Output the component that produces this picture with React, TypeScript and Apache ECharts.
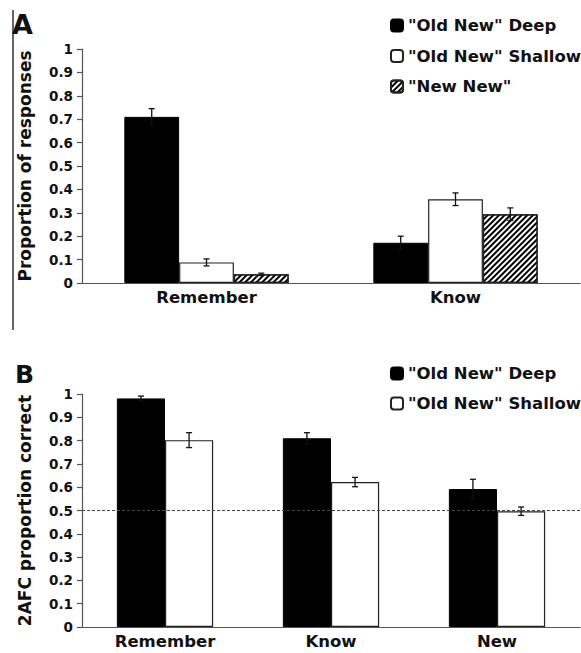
import React, { useEffect, useRef } from "react";
import * as echarts from "echarts";

const catsA = ["Remember", "Know"];
const namesA = ['"Old New" Deep', '"Old New" Shallow', '"New New"'];
const deepA = [0.71, 0.172];
const shallowA = [0.088, 0.358];
const newNewA = [0.037, 0.294];
const deepAErr = [0.035, 0.028];
const shallowAErr = [0.015, 0.027];
const newNewAErr = [0.005, 0.027];

const catsB = ["Remember", "Know", "New"];
const namesB = ['"Old New" Deep', '"Old New" Shallow'];
const deepB = [0.981, 0.81, 0.592];
const shallowB = [0.802, 0.622, 0.497];
const deepBErr = [0.01, 0.024, 0.042];
const shallowBErr = [0.032, 0.02, 0.018];
const chanceLevel = 0.5;

const yTicks = { min: 0, max: 1, interval: 0.1 };

const FONT = "DejaVu Sans";
const AXIS = "#555";
const TEXT = "#111";

export default function App() {
  const ref = useRef<HTMLDivElement>(null);
  useEffect(() => {
    if (!ref.current) return;
    const chart = echarts.init(ref.current, null, { renderer: "svg" });

    const errSeries = (
      means: number[][],
      errs: number[][],
      frac: number,
      axis: number
    ) => {
      const n = means.length;
      const data: number[][] = [];
      means.forEach((arr, k) =>
        arr.forEach((m, c) => data.push([c, m, errs[k][c], k]))
      );
      return {
        type: "custom",
        xAxisIndex: axis,
        yAxisIndex: axis,
        z: 10,
        silent: true,
        encode: { x: 0, y: 1 },
        data,
        renderItem: (params: any, api: any) => {
          const cat = api.value(0);
          const mean = api.value(1);
          const err = api.value(2);
          const k = api.value(3);
          const band = api.size([1, 0])[0];
          const bw = band * frac;
          const cx = api.coord([cat, 0])[0] + (k - (n - 1) / 2) * bw;
          const top = api.coord([cat, mean + err])[1];
          const bot = api.coord([cat, mean - err])[1];
          const cap = 3;
          const style = { stroke: "#111", lineWidth: 1.3 };
          return {
            type: "group",
            children: [
              { type: "line", shape: { x1: cx, y1: top, x2: cx, y2: bot }, style },
              { type: "line", shape: { x1: cx - cap, y1: top, x2: cx + cap, y2: top }, style },
              { type: "line", shape: { x1: cx - cap, y1: bot, x2: cx + cap, y2: bot }, style },
            ],
          };
        },
      };
    };

    const blackStyle = { color: "#000", borderColor: "#000", borderWidth: 1 };
    const whiteStyle = { color: "#fff", borderColor: "#222", borderWidth: 1.2 };
    const hatchStyle = {
      color: "#fff",
      borderColor: "#222",
      borderWidth: 1.2,
      decal: {
        symbol: "rect",
        symbolSize: 1,
        dashArrayX: [1, 0],
        dashArrayY: [1.5, 2],
        rotation: -Math.PI / 4,
        color: "#000",
        backgroundColor: "#fff",
      },
    };

    const yAxisBase = (idx: number, name: string) => ({
      type: "value",
      gridIndex: idx,
      ...yTicks,
      name,
      nameLocation: "middle",
      nameGap: 49,
      nameTextStyle: { fontFamily: FONT, fontWeight: "bold", fontSize: 17, color: TEXT },
      splitLine: { show: false },
      axisLine: { show: true, lineStyle: { color: AXIS, width: 1.2 } },
      axisTick: { show: true, length: 5, lineStyle: { color: AXIS, width: 1.2 } },
      axisLabel: {
        margin: 9,
        fontFamily: FONT,
        fontWeight: "bold",
        fontSize: 13.5,
        color: TEXT,
        formatter: (v: number) => String(+v.toFixed(1)),
      },
    });

    const xAxisBase = (idx: number, data: string[]) => ({
      type: "category",
      gridIndex: idx,
      data,
      axisLine: { show: true, lineStyle: { color: AXIS, width: 1.2 } },
      axisTick: { show: false },
      axisLabel: {
        margin: 6,
        fontFamily: FONT,
        fontWeight: "bold",
        fontSize: 16.5,
        color: TEXT,
      },
    });

    const legendBase = (top: number, gap: number, data: string[]) => ({
      orient: "vertical",
      left: 390,
      top,
      padding: 0,
      itemWidth: 12,
      itemHeight: 12,
      itemGap: gap,
      data,
      selectedMode: false,
      textStyle: { fontFamily: FONT, fontWeight: "bold", fontSize: 16.5, color: TEXT },
    });

    chart.setOption({
      animation: false,
      backgroundColor: "#fff",
      grid: [
        { left: 82, right: 1, top: 49, height: 234 },
        { left: 82, right: 1, top: 394, height: 233 },
      ],
      xAxis: [xAxisBase(0, catsA), xAxisBase(1, catsB)],
      yAxis: [
        yAxisBase(0, "Proportion of responses"),
        yAxisBase(1, "2AFC proportion correct"),
      ],
      legend: [legendBase(17, 13.5, namesA), legendBase(365, 13, namesB)],
      graphic: [
        {
          type: "line",
          shape: { x1: 13, y1: 10, x2: 13, y2: 330 },
          style: { stroke: "#333", lineWidth: 1.5 },
        },
        {
          type: "text",
          left: 12,
          top: 11,
          style: { text: "A", fontFamily: FONT, fontWeight: "bold", fontSize: 27, fill: TEXT },
        },
        {
          type: "text",
          left: 15,
          top: 362,
          style: { text: "B", fontFamily: FONT, fontWeight: "bold", fontSize: 25, fill: TEXT },
        },
      ],
      series: [
        { type: "bar", name: namesA[0], xAxisIndex: 0, yAxisIndex: 0, data: deepA, barWidth: "22%", barGap: "0%", itemStyle: blackStyle },
        { type: "bar", name: namesA[1], xAxisIndex: 0, yAxisIndex: 0, data: shallowA, barWidth: "22%", barGap: "0%", itemStyle: whiteStyle },
        { type: "bar", name: namesA[2], xAxisIndex: 0, yAxisIndex: 0, data: newNewA, barWidth: "22%", barGap: "0%", itemStyle: hatchStyle },
        errSeries([deepA, shallowA, newNewA], [deepAErr, shallowAErr, newNewAErr], 0.22, 0),
        {
          type: "bar",
          name: namesB[0],
          xAxisIndex: 1,
          yAxisIndex: 1,
          data: deepB,
          barWidth: "29%",
          barGap: "0%",
          itemStyle: blackStyle,
          markLine: {
            silent: true,
            symbol: "none",
            z: 20,
            label: { show: false },
            lineStyle: { type: [3, 2], color: "#444", width: 1.2 },
            data: [{ yAxis: chanceLevel }],
          },
        },
        { type: "bar", name: namesB[1], xAxisIndex: 1, yAxisIndex: 1, data: shallowB, barWidth: "29%", barGap: "0%", itemStyle: whiteStyle },
        errSeries([deepB, shallowB], [deepBErr, shallowBErr], 0.29, 1),
      ],
    });
    return () => chart.dispose();
  }, []);
  return (
    <div
      ref={ref}
      style={{ position: "absolute", left: 0, top: 0, width: 581, height: 653 }}
    />
  );
}
